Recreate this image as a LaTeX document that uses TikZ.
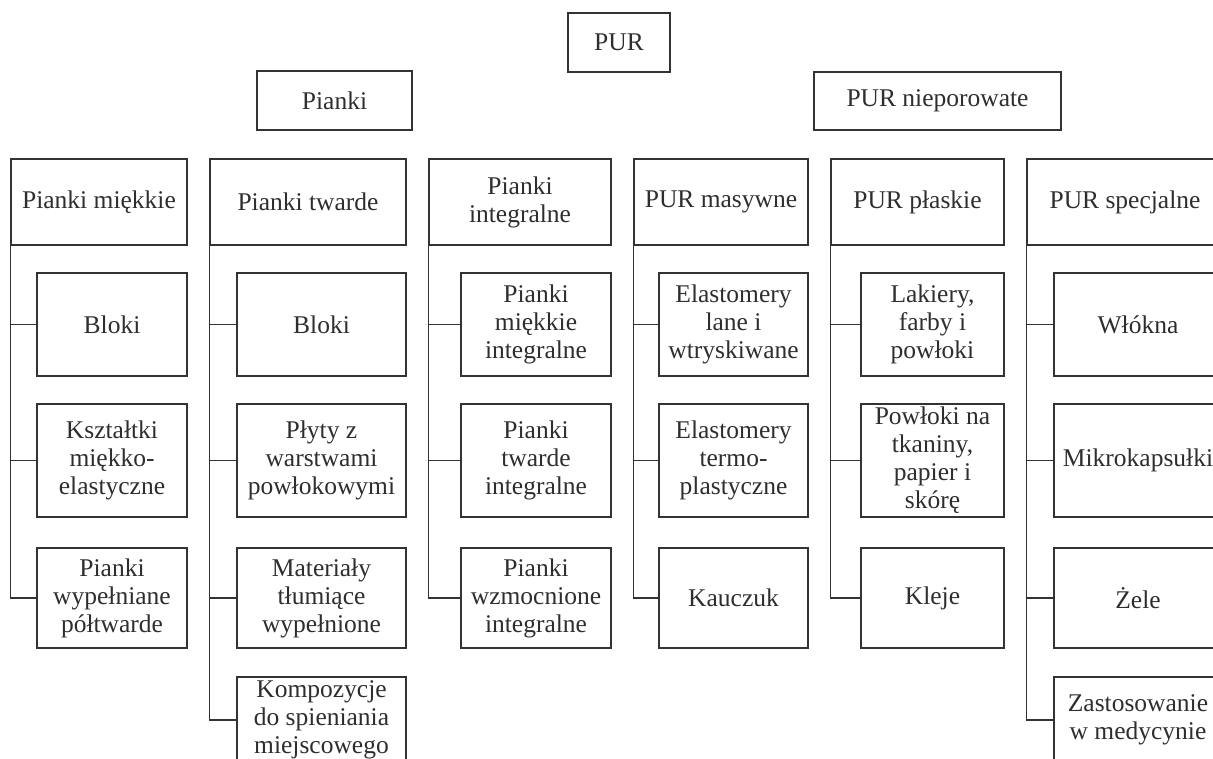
\documentclass[tikz,border=0pt]{standalone}
\usepackage{fontspec}
\setmainfont{Liberation Serif}
\usepackage{tikz}
\usetikzlibrary{positioning}
\definecolor{lineGray}{HTML}{333333}
\definecolor{textGray}{HTML}{2E2E2E}
\tikzset{
    % Box styles
    topbox/.style={
        rectangle,
        draw=lineGray,
        line width=1.3pt,
        minimum height=59pt,
        inner sep=1pt,
        text=textGray,
        text centered,
        font=\fontsize{25.5}{28}\selectfont
    },
    groupbox/.style={
        topbox,
        minimum height=86pt
    },
    itembox/.style={
        topbox,
        align=center
    },
    % Connector style
    branch/.style={
        draw=lineGray,
        line width=1.3pt
    }
}
\begin{document}
\begin{tikzpicture}[x=1pt,y=-1pt]
    \path[use as bounding box,clip] (0,0) rectangle (1213,758);

    % Top level
    \node[topbox,minimum width=102pt] (pur) at (619,42.5) {PUR};
    \node[topbox,minimum width=155pt] (pianki) at (334.5,100.5) {Pianki};
    \node[topbox,minimum width=247pt,minimum height=58pt] (nieporowate) at (937.5,101) {PUR nieporowate};

    % Groups
    \node[groupbox,minimum width=176pt] (miekkie) at (99,202) {Pianki miękkie};
    \node[groupbox,minimum width=196pt] (twarde) at (308,202) {Pianki twarde};
    \node[groupbox,minimum width=182pt,align=center] (integralne) at (520,202) {Pianki\\integralne};
    \node[groupbox,minimum width=174pt] (masywne) at (721,202) {PUR masywne};
    \node[groupbox,minimum width=173pt] (plaskie) at (917.5,202) {PUR płaskie};
    \node[groupbox,minimum width=196pt] (specjalne) at (1125,202) {PUR specjalne};

    % Pianki miękkie
    \node[itembox,minimum width=150pt,minimum height=103pt] (m1) at (112,324.5) {Bloki};
    \node[itembox,minimum width=150pt,minimum height=113pt] (m2) at (112,460.5) {Kształtki\\miękko-\\elastyczne};
    \node[itembox,minimum width=150pt,minimum height=100pt] (m3) at (112,598) {Pianki\\wypełniane\\półtwarde};

    % Pianki twarde
    \node[itembox,minimum width=169pt,minimum height=103pt] (t1) at (321.5,324.5) {Bloki};
    \node[itembox,minimum width=169pt,minimum height=113pt] (t2) at (321.5,460.5) {Płyty z\\warstwami\\powłokowymi};
    \node[itembox,minimum width=169pt,minimum height=100pt] (t3) at (321.5,598) {Materiały\\tłumiące\\wypełnione};
    \node[itembox,minimum width=169pt,minimum height=86pt] (t4) at (321.5,720) {Kompozycje\\do spieniania\\miejscowego};

    % Pianki integralne
    \node[itembox,minimum width=150pt,minimum height=103pt] (i1) at (536,324.5) {Pianki\\miękkie\\integralne};
    \node[itembox,minimum width=150pt,minimum height=113pt] (i2) at (536,460.5) {Pianki\\twarde\\integralne};
    \node[itembox,minimum width=150pt,minimum height=100pt] (i3) at (536,598) {Pianki\\wzmocnione\\integralne};

    % PUR masywne
    \node[itembox,minimum width=149pt,minimum height=103pt] (s1) at (733.5,324.5) {Elastomery\\lane i\\wtryskiwane};
    \node[itembox,minimum width=149pt,minimum height=113pt] (s2) at (733.5,460.5) {Elastomery\\termo-\\plastyczne};
    \node[itembox,minimum width=149pt,minimum height=100pt] (s3) at (733.5,598) {Kauczuk};

    % PUR płaskie
    \node[itembox,minimum width=143pt,minimum height=103pt] (p1) at (932.5,324.5) {Lakiery,\\farby i\\powłoki};
    \node[itembox,minimum width=143pt,minimum height=113pt] (p2) at (932.5,460.5) {Powłoki na\\tkaniny,\\papier i\\skórę};
    \node[itembox,minimum width=143pt,minimum height=100pt] (p3) at (932.5,598) {Kleje};

    % PUR specjalne
    \node[itembox,minimum width=168pt,minimum height=103pt] (sp1) at (1138,324.5) {Włókna};
    \node[itembox,minimum width=168pt,minimum height=113pt] (sp2) at (1138,460.5) {Mikrokapsułki};
    \node[itembox,minimum width=168pt,minimum height=100pt] (sp3) at (1138,598) {Żele};
    \node[itembox,minimum width=168pt,minimum height=86pt] (sp4) at (1138,720) {Zastosowanie\\w medycynie};

    % Connectors
    \draw[branch] (miekkie.south west) |- (m1.west);
    \draw[branch] (miekkie.south west) |- (m2.west);
    \draw[branch] (miekkie.south west) |- (m3.west);
    \draw[branch] (twarde.south west) |- (t1.west);
    \draw[branch] (twarde.south west) |- (t2.west);
    \draw[branch] (twarde.south west) |- (t3.west);
    \draw[branch] (twarde.south west) |- (t4.west);
    \draw[branch] (integralne.south west) |- (i1.west);
    \draw[branch] (integralne.south west) |- (i2.west);
    \draw[branch] (integralne.south west) |- (i3.west);
    \draw[branch] (masywne.south west) |- (s1.west);
    \draw[branch] (masywne.south west) |- (s2.west);
    \draw[branch] (masywne.south west) |- (s3.west);
    \draw[branch] (plaskie.south west) |- (p1.west);
    \draw[branch] (plaskie.south west) |- (p2.west);
    \draw[branch] (plaskie.south west) |- (p3.west);
    \draw[branch] (specjalne.south west) |- (sp1.west);
    \draw[branch] (specjalne.south west) |- (sp2.west);
    \draw[branch] (specjalne.south west) |- (sp3.west);
    \draw[branch] (specjalne.south west) |- (sp4.west);
\end{tikzpicture}
\end{document}
